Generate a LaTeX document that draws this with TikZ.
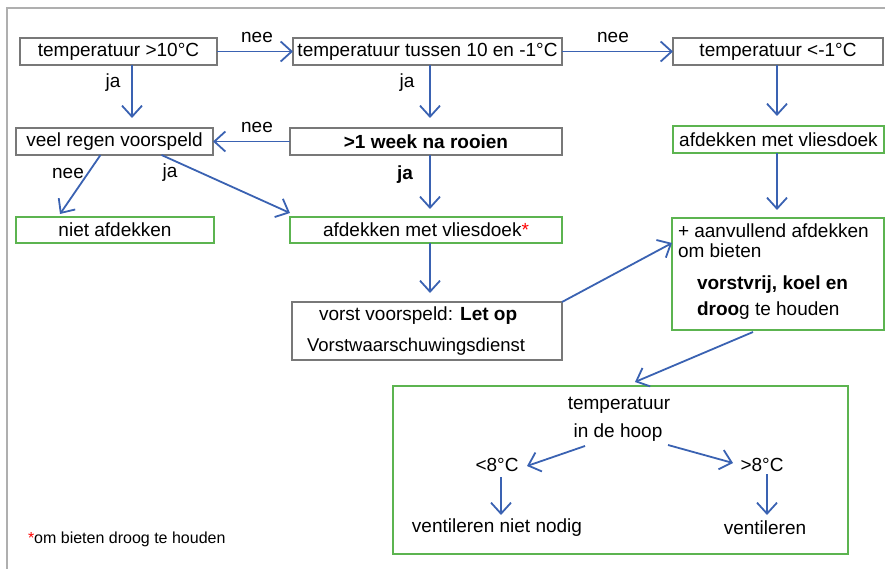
\documentclass[tikz,border=0pt]{standalone}
\usepackage{fontspec}
\setmainfont{Liberation Sans}
\usetikzlibrary{arrows.meta,calc}
\definecolor{boxgray}{RGB}{120,120,120}
\definecolor{boxgreen}{RGB}{92,180,80}
\definecolor{arrowblue}{RGB}{58,98,178}
\definecolor{framegray}{RGB}{175,175,175}
\begin{document}
\begin{tikzpicture}[x=1pt,y=-1pt,
  txt/.style={font=\fontsize{19}{22}\selectfont, inner sep=0pt, outer sep=0pt},
  gbox/.style={draw=boxgray, line width=1.8pt, inner sep=0pt, outer sep=0pt, font=\fontsize{19}{22}\selectfont},
  grbox/.style={gbox, draw=boxgreen},
  arr/.style={draw=arrowblue, line width=1.8pt, -{Straight Barb[length=11pt,width=20pt]}},
]
\useasboundingbox (0,0) rectangle (885,569);
\draw[framegray, line width=1.5pt] (7,569) -- (7,8) -- (885,8);

% boxes
\node[gbox, minimum width=197pt, minimum height=27pt] (A) at (118.5,51.5) {temperatuur >10°C\hspace{5pt}};
\node[gbox, minimum width=269pt, minimum height=27pt] (B) at (427.5,51.5) {temperatuur tussen 10 en -1°C};
\node[gbox, minimum width=210pt, minimum height=27pt] (C) at (778,51.5) {temperatuur <-1°C\hspace{10pt}};
\node[gbox, minimum width=197pt, minimum height=27pt] (D) at (114.5,141.5) {veel regen voorspeld};
\node[gbox, minimum width=272pt, minimum height=27pt] (E) at (426,141.5) {\textbf{>1 week na rooien}};
\node[grbox, minimum width=211pt, minimum height=27pt] (F) at (778.5,139.5) {afdekken met vliesdoek};
\node[grbox, minimum width=198pt, minimum height=26pt] (G) at (115,230) {niet afdekken};
\node[grbox, minimum width=272pt, minimum height=26pt] (H) at (426,230) {afdekken met vliesdoek\textcolor{red}{*}};
\node[grbox, minimum width=212pt, minimum height=112pt] (I) at (778,274) {};
\node[gbox, minimum width=270pt, minimum height=58pt] (J) at (427,331) {};
\node[grbox, minimum width=455pt, minimum height=168pt] (K) at (620.5,470) {};

% texts in I and J
\node[txt, anchor=west] (I1) at (678,231) {+ aanvullend afdekken};
\node[txt, anchor=west] (I2) at (678,251) {om bieten};
\node[txt, anchor=west] (I3) at (697,285) {\textbf{vorstvrij, koel en}};
\node[txt, anchor=west] (I4) at (697,311) {\textbf{droo}g te houden};
\node[txt, anchor=west] (J1) at (319,316) {vorst voorspeld: \textbf{Let op}};
\node[txt, anchor=west, font=\fontsize{18.5}{22}\selectfont] (J2) at (307,347) {Vorstwaarschuwingsdienst};

% texts in K
\node[txt] (kT) at (619,405) {temperatuur};
\node[txt] (kH) at (618,433) {in de hoop};
\node[txt] (kL) at (497,465) {<8°C};
\node[txt] (kR) at (762,465) {>8°C};
\node[txt] (kLN) at (497,528) {ventileren niet nodig};
\node[txt] (kRN) at (765,528) {ventileren};

% footnote
\node[txt, anchor=west, font=\fontsize{16}{18}\selectfont] (fn) at (28,539) {\textcolor{red}{*}om bieten droog te houden};

% labels
\node[txt] (l1) at (257,37) {nee};
\node[txt] (l2) at (613,37) {nee};
\node[txt] (l3) at (113,83) {ja};
\node[txt] (l4) at (407,83) {ja};
\node[txt] (l5) at (257,127) {nee};
\node[txt] (l6) at (68,173) {nee};
\node[txt] (l7) at (170,173) {ja};
\node[txt] (l8) at (405,175) {\textbf{ja}};

% connectors
\draw[arr] (A.east) -- (B.west);
\draw[arr] (B.east) -- (C.west);
\draw[arr] ($(A.south)+(13.5,0)$) -- ($(D.north)+(17.5,-10)$);
\draw[arr] ($(B.south)+(2.5,0)$) -- ($(E.north)+(4,-10)$);
\draw[arr] (E.west) -- (D.east);
\draw[arr] ($(C.south)+(-1,0)$) -- ($(F.north)+(-1.5,-10)$);
\draw[arr] ($(D.south)+(-14,0)$) -- ($(G.north)+(-55,-3)$);
\draw[arr] ($(D.south)+(47,0)$) -- ($(H.west)+(0,-17)$);
\draw[arr] ($(E.south)+(4,0)$) -- ($(H.north)+(4,-8)$);
\draw[arr] ($(F.south)+(-1.5,0)$) -- ($(I.north)+(-1,-8)$);
\draw[arr] ($(H.south)+(4,0)$) -- ($(J.north)+(3,-9)$);
\draw[arr] (J.north east) -- ($(I.west)+(0,-31)$);
\draw[arr] ($(I.south)+(-25,2)$) -- ($(K.north)+(14.5,-4)$);
\draw[arr] ($(kH)+(-33,13)$) -- ($(kL)+(30,1)$);
\draw[arr] ($(kH)+(50,12)$) -- ($(kR)+(-29,-2)$);
\draw[arr] ($(kL)+(4,12)$) -- ($(kLN)+(4,-13)$);
\draw[arr] ($(kR)+(5,9)$) -- ($(kRN)+(2,-13)$);
\end{tikzpicture}
\end{document}
